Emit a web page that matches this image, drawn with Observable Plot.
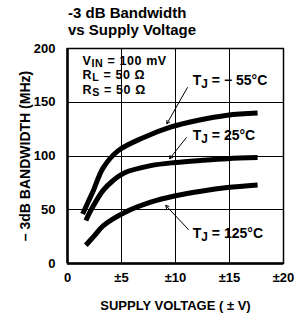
<!DOCTYPE html>
<html><head><meta charset="utf-8">
<script src="https://cdn.jsdelivr.net/npm/d3@7"></script>
<script src="https://cdn.jsdelivr.net/npm/@observablehq/plot@0.6"></script>
<style>
body{margin:0;background:#fff;}
#title{font-family:"Liberation Sans Narrow","Liberation Sans",Arial,sans-serif;font-weight:bold;font-size:15px;line-height:17px;padding:4px 0 0 68px;height:36px;color:#000;}
</style></head><body>
<div id="title">-3 dB Bandwidth<br>vs Supply Voltage</div>
<div id="chart"></div>
<script>
// Data
const voltsM55 = [1.4, 1.9, 2.4, 3.3, 4.7, 7.0, 9.6, 12.0, 14.8, 17.6];
const bwM55    = [46, 57, 68, 89, 105, 117, 127, 133, 138, 140];
const volts25  = [1.7, 2.3, 3.3, 4.2, 5.2, 7.7, 10.0, 12.5, 14.8, 17.6];
const bw25     = [40, 52, 68, 77, 84, 91, 94, 96, 97.5, 98.5];
const volts125 = [1.7, 2.5, 3.3, 5.2, 7.7, 10.0, 12.5, 14.8, 17.6];
const bw125    = [17, 26, 35, 47, 57, 63, 67.5, 70.6, 73];
const xTicks = [0, 5, 10, 15, 20];
const yTicks = [0, 50, 100, 150, 200];
const xTickLabels = ["0", "±5", "±10", "±15", "±20"];
const curveLabels = ["T_{J} = − 55°C", "T_{J} = 25°C", "T_{J} = 125°C"];
const curveLabelX = [11.6, 11.6, 11.6];
const curveLabelY = [170, 119, 28];
const leaderX1 = [11.1, 11.0, 11.2];
const leaderY1 = [163.6, 117, 31.6];
const leaderX2 = [9.2, 9.45, 9.1];
const leaderY2 = [130, 97.5, 54];
const condLines = ["V_{IN} = 100 mV", "R_{L} = 50 Ω", "R_{S} = 50 Ω"];
const condX = 1.4;
const condY = 175.6; // centre of the block (middle line)

const series = [
  ...voltsM55.map((v, i) => ({v, bw: bwM55[i], s: "-55"})),
  ...volts25.map((v, i) => ({v, bw: bw25[i], s: "25"})),
  ...volts125.map((v, i) => ({v, bw: bw125[i], s: "125"}))
];
const labels = curveLabels.map((t, i) => ({t, x: curveLabelX[i], y: curveLabelY[i]}));
const leaders = leaderX1.map((x1, i) => ({x1, y1: leaderY1[i], x2: leaderX2[i], y2: leaderY2[i]}));
const conds = [{t: condLines.join("\n"), x: condX, y: condY}];

const font = '"Liberation Sans Narrow","Liberation Sans",Arial,sans-serif';

const chart = Plot.plot({
  width: 301, height: 274,
  marginTop: 8, marginBottom: 51, marginLeft: 67, marginRight: 18,
  style: {fontFamily: font, fontSize: "13px", fontWeight: "bold", color: "black", background: "white"},
  x: {domain: [0, 20]},
  y: {domain: [0, 200]},
  marks: [
    Plot.gridX([5, 10, 15], {stroke: "black", strokeOpacity: 1, strokeWidth: 1, shapeRendering: "crispEdges"}),
    Plot.gridY([50, 100, 150], {stroke: "black", strokeOpacity: 1, strokeWidth: 1, shapeRendering: "crispEdges"}),
    Plot.frame({stroke: "black", strokeWidth: 1.5}),
    Plot.ruleX([0], {strokeWidth: 2.5}),
    Plot.ruleY([0], {strokeWidth: 2.5}),
    Plot.line(series, {x: "v", y: "bw", z: "s", stroke: "black", strokeWidth: 5, curve: "catmull-rom", strokeLinecap: "butt"}),
    Plot.arrow(leaders, {x1: "x1", y1: "y1", x2: "x2", y2: "y2", stroke: "black", strokeWidth: 1, headLength: 5}),
    Plot.text(labels, {x: "x", y: "y", text: "t", textAnchor: "start", fontSize: 14}),
    Plot.text(conds, {x: "x", y: "y", text: "t", textAnchor: "start", lineAnchor: "middle", fontSize: 12.5, lineHeight: 1.14}),
    Plot.axisX(xTicks, {tickSize: 0, tickPadding: 9, tickFormat: (d) => xTickLabels[xTicks.indexOf(d)],
      label: "SUPPLY VOLTAGE ( ± V)", labelAnchor: "center", labelOffset: 46, labelArrow: false}),
    Plot.axisY(yTicks, {tickSize: 0, tickPadding: 12,
      label: "– 3dB BANDWIDTH (MHz)", labelAnchor: "center", labelOffset: 47, labelArrow: false, fontSize: 14})
  ]
});

// turn _{...} into subscripts (leaf text / tspan nodes)
d3.select(chart).selectAll("text, tspan").each(function() {
  const hasElemChild = Array.from(this.childNodes).some(n => n.nodeType === 1);
  if (hasElemChild) return;
  const txt = this.textContent;
  if (!txt.includes("_{")) return;
  const el = d3.select(this);
  el.text(null);
  const parts = txt.split(/(_\{[^}]*\})/);
  for (const p of parts) {
    if (!p) continue;
    if (p.startsWith("_{")) {
      el.append("tspan").attr("baseline-shift", "-22%").attr("font-size", "0.85em").text(p.slice(2, -1));
    } else {
      el.append("tspan").text(p);
    }
  }
});

// condition block letter spacing
d3.select(chart).selectAll("[aria-label='text'] text").filter(function() { return this.textContent.includes("mV"); })
  .attr("letter-spacing", "0.6px");
// y-tick labels font size
d3.select(chart).selectAll("[aria-label='y-axis tick label'] text").attr("font-size", 13);

document.getElementById("chart").append(chart);
</script>
</body></html>
